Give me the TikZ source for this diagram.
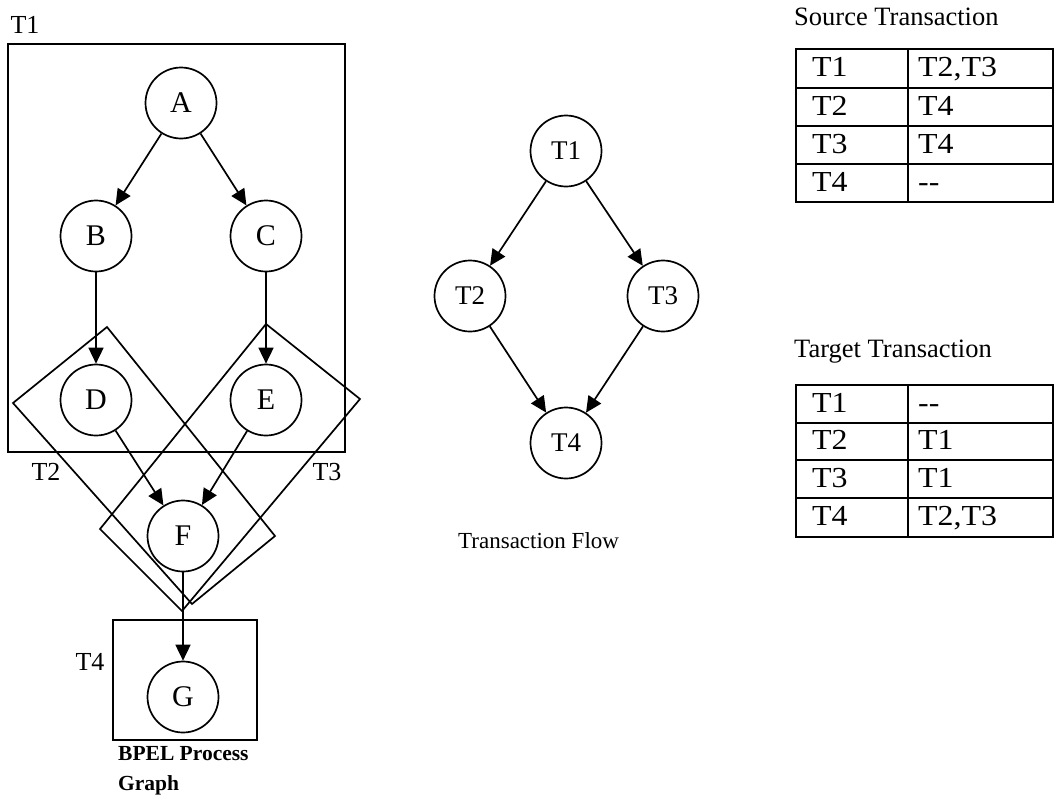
\documentclass[tikz,border=0pt]{standalone}
\usepackage{fontspec}
\setmainfont{Liberation Serif}
\newfontfamily\cellfont[FakeStretch=1.1]{Liberation Serif}
\usepackage{tikz}
\usetikzlibrary{arrows.meta}

\tikzset{
	act/.style={circle,draw,line width=1.7pt,minimum size=71pt,inner sep=0pt,font=\fontsize{30}{32}\selectfont},
	tr/.style={circle,draw,line width=1.7pt,minimum size=71pt,inner sep=0pt,font=\fontsize{27}{30}\selectfont},
	lbl/.style={inner sep=0pt,font=\fontsize{26}{28}\selectfont},
	caption/.style={inner sep=0pt,anchor=west,font=\fontsize{26.5}{28}\selectfont},
	cell/.style={inner sep=0pt,anchor=west,text height=20pt,text depth=6pt,font=\cellfont\fontsize{29}{30}\selectfont},
	box/.style={line width=1.7pt},
	arr/.style={line width=1.7pt,-{Triangle[length=16pt,width=15pt]}}
}

\begin{document}
\begin{tikzpicture}[x=1pt,y=-1pt]
	\useasboundingbox (0,0) rectangle (1054,803);

	% process graph
	\node[act] (A) at (181,103) {A};
	\node[act] (B) at (96,236) {B};
	\node[act] (C) at (266,236) {C};
	\node[act] (D) at (96,400) {D};
	\node[act] (E) at (266,400) {E};
	\node[act] (F) at (183,536) {F};
	\node[act] (G) at (183,697) {G};
	\draw [arr] (A) edge (B);
	\draw [arr] (A) edge (C);
	\draw [arr] (B) edge (D);
	\draw [arr] (C) edge (E);
	\draw [arr] (D) edge (F);
	\draw [arr] (E) edge (F);
	\draw [arr] (F) edge (G);

	% transaction scopes
	\draw[box] (8,44) rectangle (345,452);
	\draw[box] (107,327) -- (275,536) -- (192,604) -- (13,403) -- cycle;
	\draw[box] (266,324) -- (360,399) -- (182,611) -- (100,529) -- cycle;
	\draw[box] (113,620) rectangle (257,740);
	\node[lbl] (l1) at (25,25) {T1};
	\node[lbl] (l2) at (46,472) {T2};
	\node[lbl] (l3) at (327,472) {T3};
	\node[lbl] (l4) at (90,662) {T4};
	\node[anchor=north west,inner sep=0pt,align=left,font=\fontsize{21.5}{30}\bfseries] (bpel) at (118,746) {BPEL Process\\Graph};

	% transaction flow
	\node[tr] (t1) at (566,151) {T1};
	\node[tr] (t2) at (470,296) {T2};
	\node[tr] (t3) at (663,296) {T3};
	\node[tr] (t4) at (566,443) {T4};
	\draw [arr] (t1) edge (t2);
	\draw [arr] (t1) edge (t3);
	\draw [arr] (t2) edge (t4);
	\draw [arr] (t3) edge (t4);
	\node[caption,font=\fontsize{23}{26}\selectfont] (flow) at (458,541) {Transaction Flow};

	% source table
	\node[caption] (src) at (794,17) {Source Transaction};
	\draw[box] (796,49) rectangle (1053,202);
	\draw[box] (908,49) -- (908,202);
	\draw[box] (796,88) -- (1053,88);
	\draw[box] (796,126) -- (1053,126);
	\draw[box] (796,164) -- (1053,164);
	\node[cell] (s11) at (812,69) {T1};
	\node[cell] (s12) at (918,69) {T2,T3};
	\node[cell] (s21) at (812,108) {T2};
	\node[cell] (s22) at (918,108) {T4};
	\node[cell] (s31) at (812,146) {T3};
	\node[cell] (s32) at (918,146) {T4};
	\node[cell] (s41) at (812,184) {T4};
	\node[cell] (s42) at (918,184) {{-}{-}};

	% target table
	\node[caption] (tgt) at (794,352) {Target Transaction};
	\draw[box] (796,385) rectangle (1053,537);
	\draw[box] (908,385) -- (908,537);
	\draw[box] (796,423) -- (1053,423);
	\draw[box] (796,460) -- (1053,460);
	\draw[box] (796,498) -- (1053,498);
	\node[cell] (g11) at (812,405) {T1};
	\node[cell] (g12) at (918,405) {{-}{-}};
	\node[cell] (g21) at (812,442) {T2};
	\node[cell] (g22) at (918,442) {T1};
	\node[cell] (g31) at (812,480) {T3};
	\node[cell] (g32) at (918,480) {T1};
	\node[cell] (g41) at (812,518) {T4};
	\node[cell] (g42) at (918,518) {T2,T3};
\end{tikzpicture}
\end{document}
